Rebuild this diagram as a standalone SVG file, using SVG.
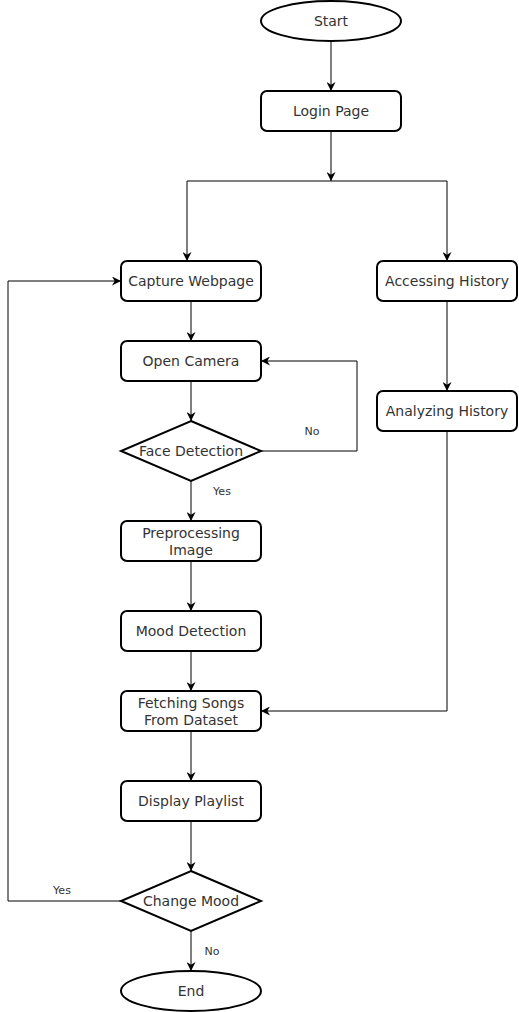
<svg xmlns="http://www.w3.org/2000/svg" width="519" height="1012" viewBox="0 0 519 1012">
<style>
.n{fill:#fff;stroke:#000;stroke-width:2}
.t{font-family:"DejaVu Sans",sans-serif;font-size:14px;fill:#333;text-anchor:middle;dominant-baseline:central}
.l{font-family:"DejaVu Sans",sans-serif;font-size:11px;fill:#333;text-anchor:middle;dominant-baseline:central}
.c{fill:none;stroke:#000;stroke-width:1}
</style>
<defs>
<marker id="a" viewBox="0 0 10 10" refX="10" refY="5" markerWidth="9" markerHeight="9" markerUnits="userSpaceOnUse" orient="auto">
<path d="M0,0 L10,5 L0,10 L3,5 Z" fill="#000"/>
</marker>
</defs>
<rect width="519" height="1012" fill="#fff"/>
<g id="connectors">
<path class="c" d="M331,41 V91" marker-end="url(#a)"/>
<path class="c" d="M331,131 V181" marker-end="url(#a)"/>
<path class="c" d="M187,181 H447"/>
<path class="c" d="M187,181 V261" marker-end="url(#a)"/>
<path class="c" d="M447,181 V261" marker-end="url(#a)"/>
<path class="c" d="M191,301 V341" marker-end="url(#a)"/>
<path class="c" d="M191,381 V421" marker-end="url(#a)"/>
<path class="c" d="M261,451 H357 V361 H261" marker-end="url(#a)"/>
<path class="c" d="M191,481 V521" marker-end="url(#a)"/>
<path class="c" d="M191,561 V611" marker-end="url(#a)"/>
<path class="c" d="M191,651 V691" marker-end="url(#a)"/>
<path class="c" d="M447,301 V391" marker-end="url(#a)"/>
<path class="c" d="M447,431 V711 H261" marker-end="url(#a)"/>
<path class="c" d="M191,731 V781" marker-end="url(#a)"/>
<path class="c" d="M191,821 V871" marker-end="url(#a)"/>
<path class="c" d="M121,901 H8 V281 H121" marker-end="url(#a)"/>
<path class="c" d="M191,931 V971" marker-end="url(#a)"/>
<text class="l" x="312" y="431">No</text>
<text class="l" x="222" y="491">Yes</text>
<text class="l" x="62" y="890">Yes</text>
<text class="l" x="212" y="951">No</text>
</g>
<g id="start"><ellipse class="n" cx="331" cy="21" rx="70" ry="20"/><text class="t" x="331" y="21">Start</text></g>
<g id="login"><rect class="n" x="261" y="91" width="140" height="40" rx="6"/><text class="t" x="331" y="111">Login Page</text></g>
<g id="capture"><rect class="n" x="121" y="261" width="140" height="40" rx="6"/><text class="t" x="191" y="281">Capture Webpage</text></g>
<g id="accessing"><rect class="n" x="377" y="261" width="140" height="40" rx="6"/><text class="t" x="447" y="281">Accessing History</text></g>
<g id="camera"><rect class="n" x="121" y="341" width="140" height="40" rx="6"/><text class="t" x="191" y="361">Open Camera</text></g>
<g id="face"><path class="n" d="M191,421 L261,451 L191,481 L121,451 Z"/><text class="t" x="191" y="451">Face Detection</text></g>
<g id="analyzing"><rect class="n" x="377" y="391" width="140" height="40" rx="6"/><text class="t" x="447" y="411">Analyzing History</text></g>
<g id="preprocess"><rect class="n" x="121" y="521" width="140" height="40" rx="6"/><text class="t" x="191" y="533">Preprocessing</text><text class="t" x="191" y="550">Image</text></g>
<g id="mood"><rect class="n" x="121" y="611" width="140" height="40" rx="6"/><text class="t" x="191" y="631">Mood Detection</text></g>
<g id="fetch"><rect class="n" x="121" y="691" width="140" height="40" rx="6"/><text class="t" x="191" y="703">Fetching Songs</text><text class="t" x="191" y="720">From Dataset</text></g>
<g id="display"><rect class="n" x="121" y="781" width="140" height="40" rx="6"/><text class="t" x="191" y="801">Display Playlist</text></g>
<g id="change"><path class="n" d="M191,871 L261,901 L191,931 L121,901 Z"/><text class="t" x="191" y="901">Change Mood</text></g>
<g id="end"><ellipse class="n" cx="191" cy="991" rx="70" ry="20"/><text class="t" x="191" y="991">End</text></g>
</svg>
